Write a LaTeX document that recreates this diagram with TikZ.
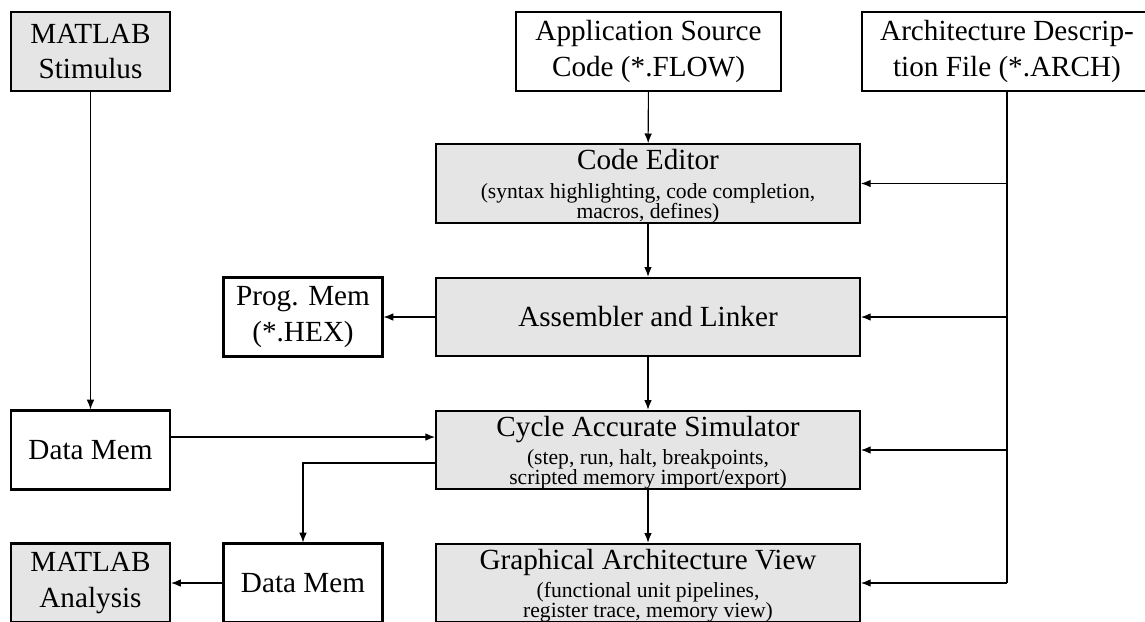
\documentclass[tikz,border=0pt]{standalone}
\usepackage{fontspec}
\setmainfont{Liberation Serif}
\usetikzlibrary{arrows.meta,calc}

\tikzset{
  boxfont/.style={font=\fontsize{10.8}{13}\selectfont,
                  execute at begin node={\lineskiplimit=-20pt}},
  box/.style={draw=black, line width=0.8pt, align=center, inner sep=1pt, boxfont},
  shaded/.style={box, fill=black!10},
  smallbox/.style={minimum width=58.8pt, minimum height=29.2pt},
  widebox/.style={minimum width=156.8pt, minimum height=29pt},
  % caption block of a three-line tool box, set a little low in its frame
  toolcaption/.style={align=center, inner sep=1pt, boxfont, yshift=-1pt},
  flow/.style={line width=0.4pt, -{Latex[length=3.6pt,width=2.8pt]}},
  wire/.style={line width=0.4pt},
}
% smaller type for the explanatory lines inside the tool boxes
\newcommand{\sub}{\fontsize{8}{9.2}\selectfont}

\begin{document}
\begin{tikzpicture}[x=0.37pt, y=-0.37pt]
  \useasboundingbox (0,0) rectangle (1145,621);
  \clip (0,0) rectangle (1145,621);

  % inputs
  \node[shaded, smallbox] (stim) at (90.5,51.5) {MATLAB\\Stimulus};
  \node[box, minimum width=98.2pt, minimum height=29.2pt] (app) at (648.5,51.5)
       {Application Source\\Code (*.FLOW)};
  \node[box, minimum width=107.2pt, minimum height=29.2pt] (arch) at (1007,51.5)
       {Architecture Descrip-\\tion File (*.ARCH)};

  % tool chain
  \node[shaded, widebox] (editor) at (648,183.5) {};
  \node[toolcaption] (editor-text) at (editor.center)
       {Code Editor\\[-2.4pt]\sub (syntax highlighting, code completion,\\[-5.6pt]\sub macros, defines)};
  \node[shaded, widebox] (asm) at (648,317) {Assembler and Linker};
  \node[box, smallbox] (prog) at (303,317) {Prog. Mem\\(*.HEX)};
  \node[shaded, widebox] (sim) at (648,450) {};
  \node[toolcaption] (sim-text) at (sim.center)
       {Cycle Accurate Simulator\\[-2.4pt]\sub (step, run, halt, breakpoints,\\[-5.6pt]\sub scripted memory import/export)};
  \node[shaded, widebox] (gav) at (648,583) {};
  \node[toolcaption] (gav-text) at (gav.center)
       {Graphical Architecture View\\[-2.4pt]\sub (functional unit pipelines,\\[-5.6pt]\sub register trace, memory view)};

  % data memories and analysis
  \node[box, smallbox] (dm1) at (90.5,450) {Data Mem};
  \node[box, smallbox] (dm2) at (303,583) {Data Mem};
  \node[shaded, smallbox] (ana) at (90.5,583) {MATLAB\\Analysis};

  % main flow
  \draw[flow] (app) -- (editor);
  \draw[flow] (editor) -- (asm);
  \draw[flow] (asm) -- (sim);
  \draw[flow] (sim) -- (gav);
  \draw[flow] (asm) -- (prog);
  \draw[flow] (stim) -- (dm1);
  \draw[flow] ([yshift=4.8pt]dm1.east) -- ([yshift=4.8pt]dm1.east -| sim.west);
  \draw[flow] ([yshift=-4.8pt]sim.west) -| (dm2.north);
  \draw[flow] (dm2) -- (ana);

  % architecture description feeds every stage
  \draw[wire] (arch.south) -- (arch.south |- gav.east);
  \draw[flow] (arch.south |- editor.east) -- (editor.east);
  \draw[flow] (arch.south |- asm.east) -- (asm.east);
  \draw[flow] (arch.south |- sim.east) -- (sim.east);
  \draw[flow] (arch.south |- gav.east) -- (gav.east);
\end{tikzpicture}
\end{document}
